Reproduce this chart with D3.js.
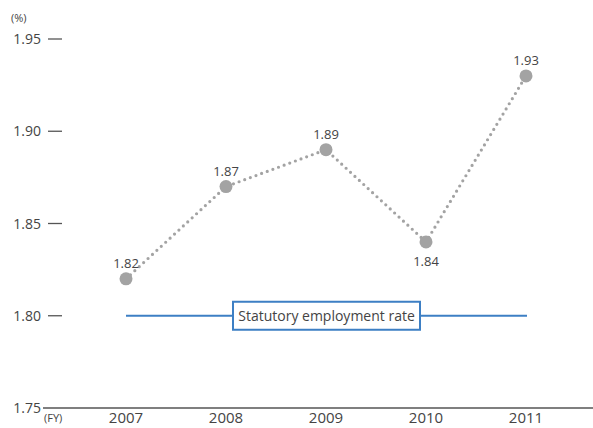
<!DOCTYPE html>
<html>
<head>
<meta charset="utf-8">
<script src="https://cdn.jsdelivr.net/npm/d3@7"></script>
<style>
  body { margin: 0; background: #fff; }
  svg { display: block; font-family: "Open Sans", "Noto Sans", sans-serif; }
</style>
</head>
<body>
<div id="chart"></div>
<script>
var years    = ["2007", "2008", "2009", "2010", "2011"],
    rates    = [1.82, 1.87, 1.89, 1.84, 1.93],
    yTicks   = [1.75, 1.80, 1.85, 1.90, 1.95],
    statRate = 1.80;

var width = 593, height = 428;

var svg = d3.select("#chart").append("svg")
    .attr("width", width)
    .attr("height", height);

var x = d3.scalePoint()
    .domain(years)
    .range([126, 526]);

var y = d3.scaleLinear()
    .domain([1.75, 1.95])
    .range([408, 39]);

// y ticks (short dashes + labels)
yTicks.forEach(function(t){
  if (t > 1.75) {
    svg.append("line")
      .attr("x1", 48).attr("x2", 62)
      .attr("y1", y(t)).attr("y2", y(t))
      .style("stroke", "#555")
      .style("stroke-width", 1.3);
  }
  svg.append("text")
    .attr("x", 41)
    .attr("y", y(t) + 5)
    .attr("text-anchor", "end")
    .text(t.toFixed(2))
    .style("font-size", "14px")
    .style("fill", "#444");
});

// baseline
svg.append("line")
  .attr("x1", 43).attr("x2", width)
  .attr("y1", y(1.75)).attr("y2", y(1.75))
  .style("stroke", "#555")
  .style("stroke-width", 1.5);

svg.append("text")
  .attr("x", 11).attr("y", 22)
  .text("(%)")
  .style("font-size", "11px")
  .style("fill", "#444");

svg.append("text")
  .attr("x", 44).attr("y", 422)
  .text("(FY)")
  .style("font-size", "11px")
  .style("fill", "#444");

// year labels
svg.selectAll(".year")
  .data(years)
  .enter().append("text")
  .attr("class", "year")
  .attr("x", function(d){ return x(d); })
  .attr("y", 423)
  .attr("text-anchor", "middle")
  .text(function(d){ return d; })
  .style("font-size", "15px")
  .style("fill", "#444");

// statutory rate line
svg.append("line")
  .attr("x1", x(years[0])).attr("x2", x(years[years.length - 1]) + 1)
  .attr("y1", y(statRate)).attr("y2", y(statRate))
  .style("stroke", "#3d7fc4")
  .style("stroke-width", 2);

var boxX0 = 233, boxX1 = 420;
svg.append("rect")
  .attr("x", boxX0).attr("y", y(statRate) - 14)
  .attr("width", boxX1 - boxX0).attr("height", 28)
  .style("fill", "#fff")
  .style("stroke", "#3d7fc4")
  .style("stroke-width", 2);

svg.append("text")
  .attr("x", (boxX0 + boxX1) / 2)
  .attr("y", y(statRate) + 5)
  .attr("text-anchor", "middle")
  .text("Statutory employment rate")
  .style("font-size", "14px")
  .style("fill", "#444");

// dotted line
var line = d3.line()
  .x(function(d, i){ return x(years[i]); })
  .y(function(d){ return y(d); });

svg.append("path")
  .datum(rates)
  .attr("d", line)
  .style("fill", "none")
  .style("stroke", "#a3a3a3")
  .style("stroke-width", 3.2)
  .style("stroke-linecap", "round")
  .style("stroke-dasharray", "0 6");

// points
svg.selectAll(".pt")
  .data(rates)
  .enter().append("circle")
  .attr("class", "pt")
  .attr("cx", function(d, i){ return x(years[i]); })
  .attr("cy", function(d){ return y(d); })
  .attr("r", 6.5)
  .style("fill", "#a3a3a3");

// value labels
svg.selectAll(".val")
  .data(rates)
  .enter().append("text")
  .attr("class", "val")
  .attr("x", function(d, i){ return x(years[i]); })
  .attr("y", function(d, i){ return years[i] === "2010" ? y(d) + 24 : y(d) - 11; })
  .attr("text-anchor", "middle")
  .text(function(d){ return d.toFixed(2); })
  .style("font-size", "13px")
  .style("fill", "#444");
</script>
</body>
</html>
